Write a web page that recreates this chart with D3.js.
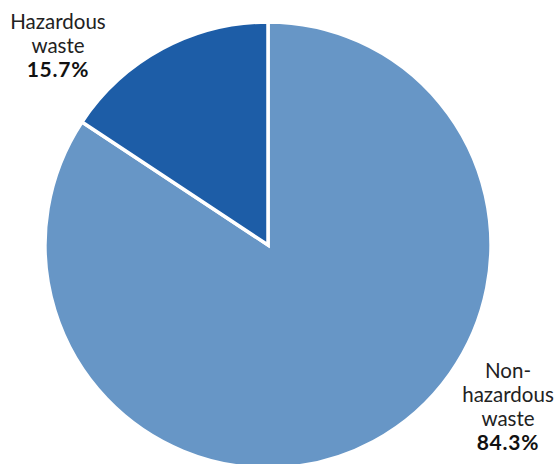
<!DOCTYPE html>
<html><head><meta charset="utf-8">
<script src="https://cdn.jsdelivr.net/npm/d3@7"></script>
<style>body{margin:0;background:#fff}svg{display:block}</style>
</head><body>
<svg id="chart" width="557" height="464"></svg>
<script>
const categories = ["Non-hazardous waste", "Hazardous waste"];
const values = [84.3, 15.7];
const valueLabels = ["84.3%", "15.7%"];
const colors = ["#6796C6", "#1D5DA7"];

const svg = d3.select("#chart");
const cx = 268, cy = 245, r = 223;
const pie = d3.pie().sort(null).value(d => d.v);
const data = pie(categories.map((c, i) => ({c, v: values[i], color: colors[i]})));
const arc = d3.arc().innerRadius(0).outerRadius(r);
const g = svg.append("g").attr("transform", `translate(${cx},${cy})`);
g.selectAll("path").data(data).join("path")
  .attr("d", arc).attr("fill", d => d.data.color)
  .attr("stroke", "#fff").attr("stroke-width", 3.5).attr("stroke-linejoin", "miter");

function label(x, y, lines, pct) {
  const t = svg.append("text").attr("text-anchor", "middle")
    .attr("font-family", "Lato, sans-serif").attr("font-size", 20.5).attr("fill", "#222");
  lines.forEach((l, i) => t.append("tspan").attr("x", x).attr("y", y + i * 24).text(l));
  t.append("tspan").attr("x", x).attr("y", y + lines.length * 24)
    .attr("font-weight", "bold").attr("font-size", 21).attr("letter-spacing", 0.8)
    .attr("fill", "#111").text(pct);
}
label(58, 29, ["Hazardous", "waste"], valueLabels[1]);
label(508, 378, ["Non-", "hazardous", "waste"], valueLabels[0]);
</script>
</body></html>
